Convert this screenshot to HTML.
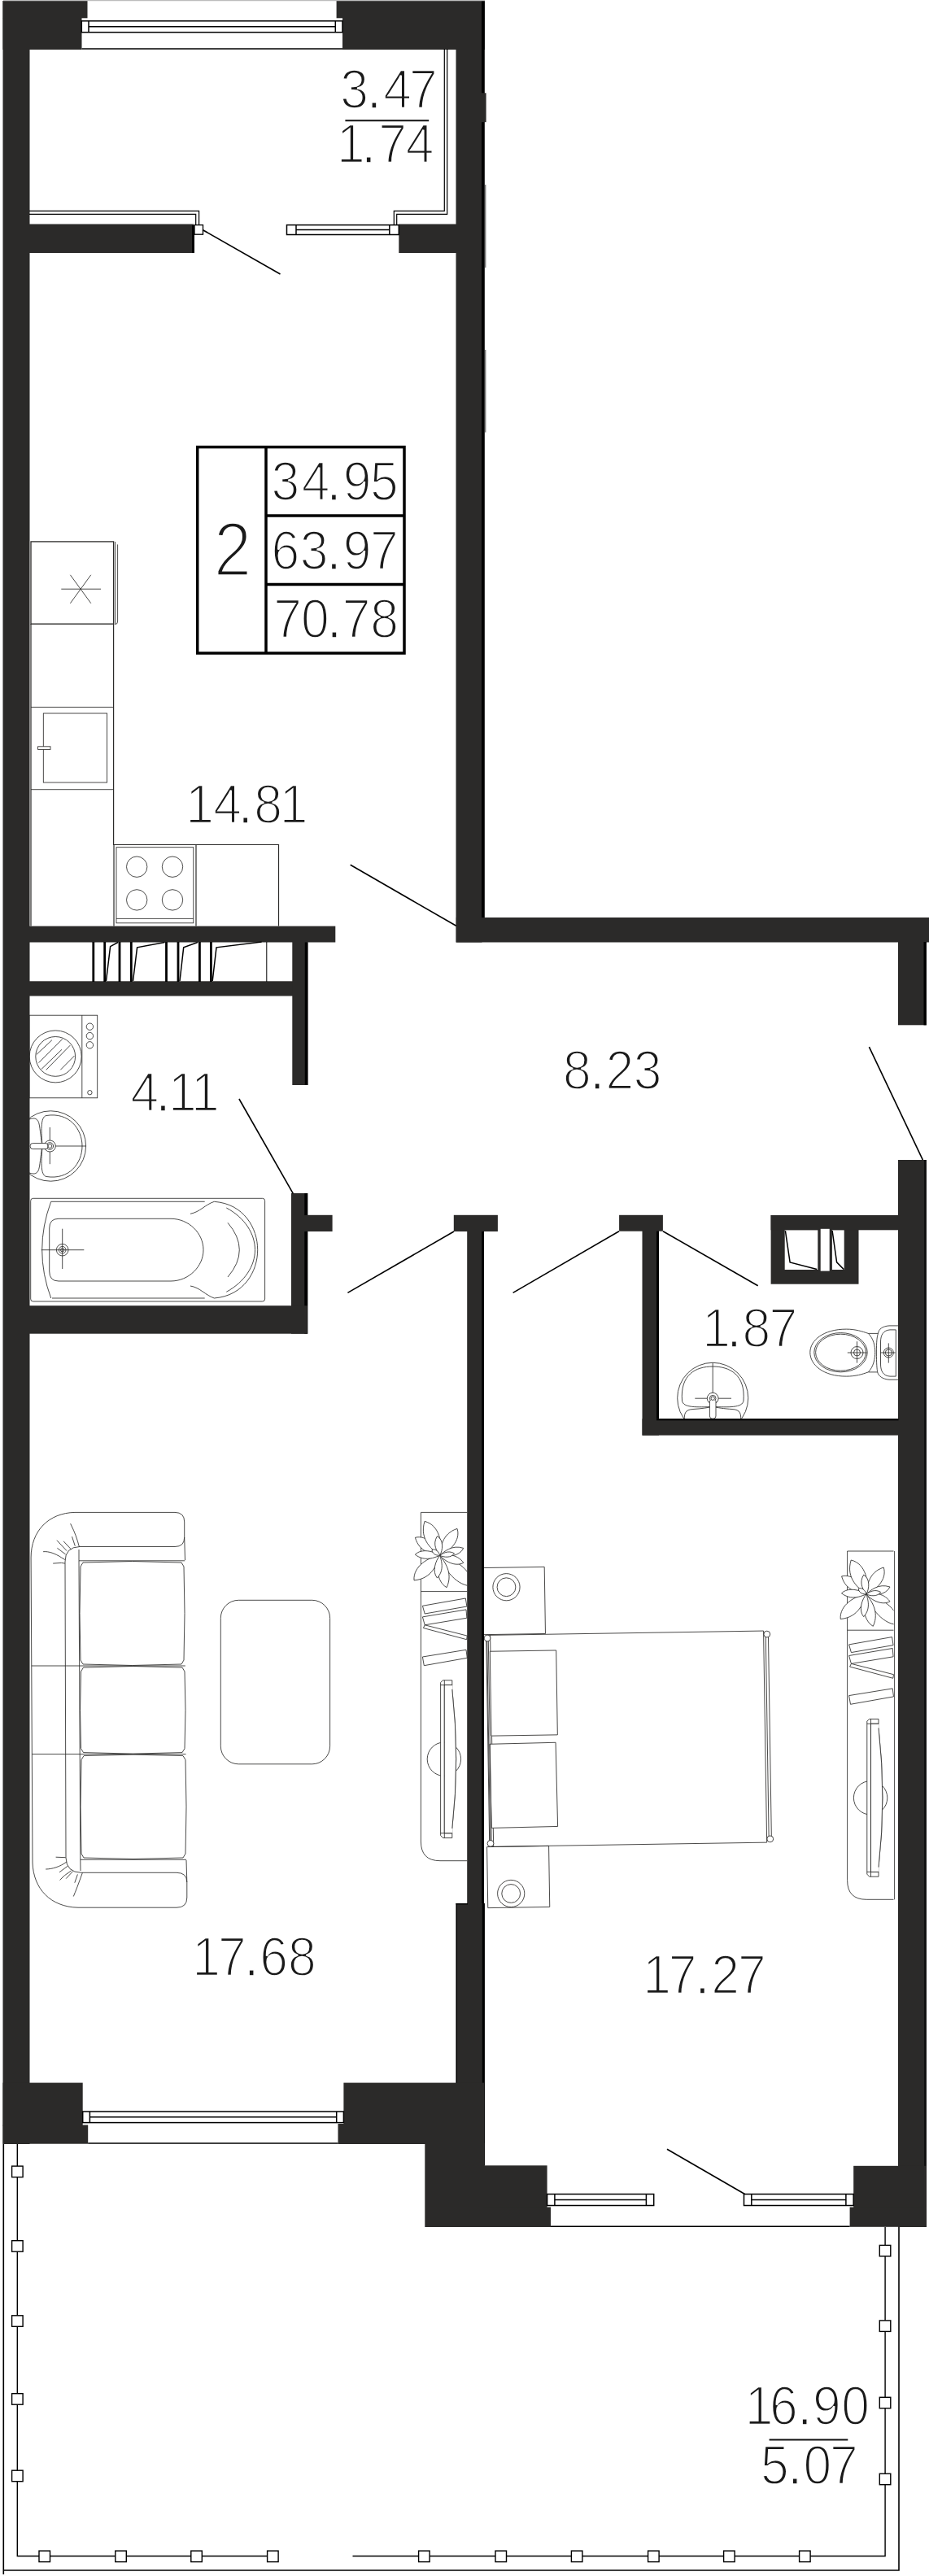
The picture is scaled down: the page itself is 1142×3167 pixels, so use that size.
<!DOCTYPE html>
<html><head><meta charset="utf-8"><title>Plan</title>
<style>
html,body{margin:0;padding:0;background:#fff}
svg{display:block}
text{font-family:"Liberation Sans","DejaVu Sans",sans-serif;fill:#1a1a1a}
</style></head><body>
<svg width="1142" height="3167" viewBox="0 0 1142 3167">
<rect width="1142" height="3167" fill="#fff"/>
<g id="furn">
<rect x="38.0" y="665.9" width="101.6" height="101.2" fill="none" stroke="#2b2a29" stroke-width="1.3" rx="0"/>
<path d="M141.6,666 V767.5 Q144.6,767.5 144.6,764 V669.4" stroke="#2b2a29" stroke-width="0.85" fill="none" />
<line x1="75.3" y1="724.2" x2="124.0" y2="724.2" stroke="#2b2a29" stroke-width="0.85" />
<line x1="86.4" y1="706.8" x2="111.8" y2="741.7" stroke="#2b2a29" stroke-width="0.85" />
<line x1="111.8" y1="706.8" x2="86.4" y2="741.7" stroke="#2b2a29" stroke-width="0.85" />
<path d="M38,767 V1138.5 M139.6,767 V1038.5 H342.5 V1138.5" stroke="#2b2a29" stroke-width="1.2" fill="none" />
<line x1="38.0" y1="869.4" x2="139.0" y2="869.4" stroke="#2b2a29" stroke-width="0.85" />
<line x1="38.0" y1="970.7" x2="139.0" y2="970.7" stroke="#2b2a29" stroke-width="0.85" />
<rect x="53.3" y="877.0" width="78.3" height="85.0" fill="none" stroke="#2b2a29" stroke-width="0.85" rx="0"/>
<rect x="46.6" y="917.8" width="15.4" height="3.6" fill="#fff" stroke="#2b2a29" stroke-width="0.85" rx="0"/>
<line x1="140.0" y1="1038.5" x2="140.0" y2="1138.5" stroke="#2b2a29" stroke-width="1.2" />
<line x1="241.0" y1="1038.5" x2="241.0" y2="1138.5" stroke="#2b2a29" stroke-width="1.2" />
<rect x="143.0" y="1041.7" width="94.8" height="93.1" fill="none" stroke="#2b2a29" stroke-width="0.85" rx="0"/>
<line x1="143.0" y1="1129.4" x2="237.8" y2="1129.4" stroke="#2b2a29" stroke-width="0.85" />
<circle cx="168.2" cy="1065.7" r="12.7" stroke="#2b2a29" stroke-width="0.85" fill="none"/>
<circle cx="168.2" cy="1106.4" r="12.7" stroke="#2b2a29" stroke-width="0.85" fill="none"/>
<circle cx="212.0" cy="1065.7" r="12.7" stroke="#2b2a29" stroke-width="0.85" fill="none"/>
<circle cx="212.0" cy="1106.4" r="12.7" stroke="#2b2a29" stroke-width="0.85" fill="none"/>
<rect x="36.0" y="1248.2" width="83.7" height="101.6" fill="none" stroke="#2b2a29" stroke-width="0.85" rx="0"/>
<line x1="100.8" y1="1248.2" x2="100.8" y2="1349.8" stroke="#2b2a29" stroke-width="0.85" />
<circle cx="68.2" cy="1298.9" r="32.0" stroke="#2b2a29" stroke-width="0.85" fill="none"/>
<circle cx="68.2" cy="1298.9" r="24.4" stroke="#2b2a29" stroke-width="0.85" fill="none"/>
<clipPath id="drum"><circle cx="68.2" cy="1298.9" r="24.4"/></clipPath><g clip-path="url(#drum)">
<line x1="45.0" y1="1296.3" x2="63.9" y2="1278.7" stroke="#2b2a29" stroke-width="0.85" />
<line x1="47.6" y1="1306.6" x2="76.8" y2="1277.4" stroke="#2b2a29" stroke-width="0.85" />
<line x1="51.0" y1="1314.4" x2="76.0" y2="1290.3" stroke="#2b2a29" stroke-width="0.85" />
<line x1="56.7" y1="1315.3" x2="86.3" y2="1285.1" stroke="#2b2a29" stroke-width="0.85" />
<line x1="74.3" y1="1315.3" x2="91.5" y2="1298.0" stroke="#2b2a29" stroke-width="0.85" />
</g>
<circle cx="110.4" cy="1262.2" r="4.2" stroke="#2b2a29" stroke-width="0.85" fill="none"/>
<circle cx="110.4" cy="1273.6" r="4.2" stroke="#2b2a29" stroke-width="0.85" fill="none"/>
<circle cx="110.4" cy="1284.8" r="4.2" stroke="#2b2a29" stroke-width="0.85" fill="none"/>
<circle cx="110.4" cy="1343.2" r="2.7" stroke="#2b2a29" stroke-width="0.85" fill="none"/>
<clipPath id="bclip"><rect x="36" y="1350" width="120" height="120"/></clipPath><g clip-path="url(#bclip)">
<circle cx="62.4" cy="1409.0" r="43.2" stroke="#2b2a29" stroke-width="0.85" fill="none"/>
<path d="M57,1371.5 C85,1367 101,1388 101,1409 C101,1430 85,1451 57,1446.5 C49,1445 51,1425 52,1409 C51,1393 49,1373 57,1371.5 Z" stroke="#2b2a29" stroke-width="0.85" fill="none" />
<path d="M36,1376 C42,1374 47,1374 48.5,1384 C50,1394 51,1404 52,1409 C51,1414 50,1424 48.5,1434 C47,1444 42,1444 36,1442" stroke="#2b2a29" stroke-width="0.85" fill="none" />
</g>
<line x1="61.3" y1="1385.9" x2="61.3" y2="1431.2" stroke="#2b2a29" stroke-width="0.85" />
<line x1="44.0" y1="1409.0" x2="105.6" y2="1409.0" stroke="#2b2a29" stroke-width="0.85" />
<circle cx="61.3" cy="1409.0" r="7.0" stroke="#2b2a29" stroke-width="0.85" fill="#fff"/>
<circle cx="61.3" cy="1409.0" r="4.3" stroke="#2b2a29" stroke-width="0.85" fill="none"/>
<rect x="37.2" y="1405.6" width="21.8" height="7.0" fill="#fff" stroke="#2b2a29" stroke-width="0.85" rx="3"/>
<circle cx="61.3" cy="1409.0" r="2.5" stroke="#2b2a29" stroke-width="0.85" fill="none"/>
<rect x="37.7" y="1473.3" width="287.9" height="126.7" fill="none" stroke="#2b2a29" stroke-width="0.85" rx="3"/>
<path d="M62.7,1477.3 H251.7 M62.7,1477.3 Q40.7,1536.7 62.7,1596 M64,1596 H251.7" stroke="#2b2a29" stroke-width="0.85" fill="none" />
<path d="M234,1492.3 C246,1490 252,1481 263.3,1477.3 C300,1480 316.7,1510 316.7,1536.7 C316.7,1563 300,1593 263.3,1596 C252,1592 246,1583 234,1581" stroke="#2b2a29" stroke-width="0.85" fill="none" />
<path d="M278.3,1485 C301,1497 313.5,1517 313.5,1536.7 C313.5,1556 301,1576 278.3,1588.3" stroke="#2b2a29" stroke-width="0.85" fill="none" />
<path d="M280,1503.3 Q308.6,1536.7 280,1570" stroke="#2b2a29" stroke-width="0.85" fill="none" />
<path d="M72,1498.3 H210 C232,1498.3 250,1516 250,1536.7 C250,1557 232,1575 210,1575 H72 Q60.7,1575 60.7,1563 V1510 Q60.7,1498.3 72,1498.3 Z" stroke="#2b2a29" stroke-width="0.85" fill="none" />
<line x1="76.7" y1="1510.7" x2="76.7" y2="1560.0" stroke="#2b2a29" stroke-width="0.85" />
<line x1="50.7" y1="1536.7" x2="103.3" y2="1536.7" stroke="#2b2a29" stroke-width="0.85" />
<circle cx="76.7" cy="1536.7" r="7.3" stroke="#2b2a29" stroke-width="0.85" fill="none"/>
<circle cx="76.7" cy="1536.7" r="4.3" stroke="#2b2a29" stroke-width="0.85" fill="none"/>
<circle cx="76.7" cy="1536.7" r="2.2" stroke="#2b2a29" stroke-width="0.85" fill="none"/>
<clipPath id="wclip"><rect x="810" y="1660" width="130" height="84.5"/></clipPath><g clip-path="url(#wclip)">
<circle cx="876.2" cy="1718.8" r="43.5" stroke="#2b2a29" stroke-width="0.85" fill="none"/>
<path d="M838.5,1722 C836,1690 855,1680 876.2,1680 C897,1680 916.5,1690 914,1722 C913,1731 895,1730 876.2,1729.5 C857,1730 839.5,1731 838.5,1722 Z" stroke="#2b2a29" stroke-width="0.85" fill="none" />
<path d="M842,1750 C840,1738 842,1733 852,1732.5 C862,1732 870,1730.5 876.2,1729.5 C882,1730.5 890,1732 900,1732.5 C910,1733 912,1738 910,1750" stroke="#2b2a29" stroke-width="0.85" fill="none" />
</g>
<line x1="876.2" y1="1675.3" x2="876.2" y2="1719.0" stroke="#2b2a29" stroke-width="0.85" />
<line x1="854.3" y1="1719.2" x2="899.0" y2="1719.2" stroke="#2b2a29" stroke-width="0.85" />
<circle cx="876.2" cy="1719.2" r="6.9" stroke="#2b2a29" stroke-width="0.85" fill="#fff"/>
<circle cx="876.2" cy="1719.2" r="3.8" stroke="#2b2a29" stroke-width="0.85" fill="none"/>
<path d="M872.4,1722 V1741 Q872.4,1744.3 876.2,1744.3 Q880,1744.3 880,1741 V1722" stroke="#2b2a29" stroke-width="0.85" fill="#fff" />
<circle cx="876.2" cy="1719.2" r="2.2" stroke="#2b2a29" stroke-width="0.85" fill="none"/>
<path d="M1067.4,1639.4 C1060,1637 1052,1634.1 1040.3,1634.1 C1012,1634.1 995.8,1648 995.8,1662.7 C995.8,1678 1012,1692.1 1040.3,1692.1 C1052,1692.1 1060,1689.5 1067.4,1686.9 C1074,1680 1075.7,1670 1075.7,1662.7 C1075.7,1655 1074,1646 1067.4,1639.4 Z" stroke="#2b2a29" stroke-width="0.85" fill="none" />
<path d="M1067.4,1639.4 H1079.5 M1067.4,1686.9 H1078.7" stroke="#2b2a29" stroke-width="0.85" fill="none" />
<ellipse cx="1033.5" cy="1662.7" rx="32.7" ry="24.1" fill="none" stroke="#2b2a29" stroke-width="0.85"/>
<ellipse cx="1033.5" cy="1662.7" rx="30.9" ry="22.5" fill="none" stroke="#2b2a29" stroke-width="0.85"/>
<path d="M1106,1629.9 H1093 C1085,1630.5 1080,1634 1079.5,1639.4 C1078,1643 1077.4,1650 1077.4,1663 C1077.4,1676 1078,1683 1078.7,1686.9 C1080,1692 1085,1695.5 1093,1696.2 H1106" stroke="#2b2a29" stroke-width="0.85" fill="none" />
<path d="M1101.3,1634.9 H1094 C1086,1635.5 1082.5,1641 1082.5,1650 V1677 C1082.5,1686 1086,1691.5 1094,1692.1 H1101.3 Z" stroke="#2b2a29" stroke-width="0.85" fill="none" />
<circle cx="1053.5" cy="1663.0" r="7.5" stroke="#2b2a29" stroke-width="0.85" fill="none"/>
<circle cx="1053.5" cy="1663.0" r="4.0" stroke="#2b2a29" stroke-width="0.85" fill="none"/>
<line x1="1041.8" y1="1663.0" x2="1065.9" y2="1663.0" stroke="#2b2a29" stroke-width="0.85" />
<line x1="1053.5" y1="1649.2" x2="1053.5" y2="1675.6" stroke="#2b2a29" stroke-width="0.85" />
<circle cx="1092.3" cy="1663.0" r="6.0" stroke="#2b2a29" stroke-width="0.85" fill="none"/>
<circle cx="1092.3" cy="1663.0" r="4.0" stroke="#2b2a29" stroke-width="0.85" fill="none"/>
<line x1="1082.5" y1="1663.0" x2="1100.6" y2="1663.0" stroke="#2b2a29" stroke-width="0.85" />
<line x1="1092.3" y1="1651.4" x2="1092.3" y2="1675.6" stroke="#2b2a29" stroke-width="0.85" />
<path d="M226.7,1871 Q226.7,1859.4 215,1859.4 H92 C60,1860 38.1,1882 38.1,1915 L40,2290 C41,2322 62,2344.5 96,2345.2 H217 Q229.8,2345.2 229.8,2333 V2314 Q229.8,2302.3 217,2302.3 H100 Q81.5,2302 81,2284 L80,1920 Q80,1902 98,1901.5 H215 Q226.7,1901.5 226.7,1890 Z" stroke="#2b2a29" stroke-width="0.85" fill="none" />
<path d="M226.7,1890 L227.5,1918 M229.8,2314 L229,2287" stroke="#2b2a29" stroke-width="0.85" fill="none" />
<path d="M97,1905 L97,1918.8 L98.8,2286.3 L99,2300" stroke="#2b2a29" stroke-width="0.85" fill="none" />
<path d="M97,1918.8 H227.3 M98.8,2286.3 H229" stroke="#2b2a29" stroke-width="0.85" fill="none" />
<line x1="38.8" y1="2048.0" x2="227.8" y2="2048.0" stroke="#2b2a29" stroke-width="0.85" />
<line x1="39.3" y1="2156.6" x2="228.5" y2="2156.6" stroke="#2b2a29" stroke-width="0.85" />
<path d="M102,1921 Q162.5,1918 223,1921 L226,1926 Q228,1983.5 226,2041 L223,2046 Q162.5,2049 102,2046 L99,2041 Q97,1983.5 99,1926 Z" stroke="#2b2a29" stroke-width="0.85" fill="none" />
<path d="M102.5,2050 Q163.25,2047 224,2050 L227,2055 Q229,2102.3 227,2149.6 L224,2154.6 Q163.25,2157.6 102.5,2154.6 L99.5,2149.6 Q97.5,2102.3 99.5,2055 Z" stroke="#2b2a29" stroke-width="0.85" fill="none" />
<path d="M103,2158.6 Q164.0,2155.6 225,2158.6 L228,2163.6 Q230,2221.3 228,2279 L225,2284 Q164.0,2287 103,2284 L100,2279 Q98,2221.3 100,2163.6 Z" stroke="#2b2a29" stroke-width="0.85" fill="none" />
<path d="M86.6,1873.1 Q91,1882 93.1,1887.8 T97.5,1902" stroke="#2b2a29" stroke-width="0.85" fill="none" />
<path d="M88.5,1889.1 L92.3,1900.7" stroke="#2b2a29" stroke-width="0.85" fill="none" />
<path d="M69.9,1893.7 L82,1906.6" stroke="#2b2a29" stroke-width="0.85" fill="none" />
<path d="M78.1,1894.8 L87.7,1905.1" stroke="#2b2a29" stroke-width="0.85" fill="none" />
<path d="M53.1,1907.7 C60,1907 68,1910 75.5,1914.9 L79.9,1917.5" stroke="#2b2a29" stroke-width="0.85" fill="none" />
<path d="M70.4,1903.3 L80.7,1911" stroke="#2b2a29" stroke-width="0.85" fill="none" />
<path d="M65.2,1922.1 L75.5,1921.4 L79.9,1922.1" stroke="#2b2a29" stroke-width="0.85" fill="none" />
<path d="M68.6,2283.2 L80.7,2283.7" stroke="#2b2a29" stroke-width="0.85" fill="none" />
<path d="M56.2,2298 C64,2298 74,2295 82,2288.9" stroke="#2b2a29" stroke-width="0.85" fill="none" />
<path d="M73,2301.8 L83.3,2294.1" stroke="#2b2a29" stroke-width="0.85" fill="none" />
<path d="M73.5,2311.4 Q78,2306 87.7,2299.8" stroke="#2b2a29" stroke-width="0.85" fill="none" />
<path d="M81.2,2309.6 L89.7,2300.5" stroke="#2b2a29" stroke-width="0.85" fill="none" />
<path d="M90.3,2331.5 Q94,2323 101.4,2302.3" stroke="#2b2a29" stroke-width="0.85" fill="none" />
<path d="M91.8,2314.7 L95.4,2304.4" stroke="#2b2a29" stroke-width="0.85" fill="none" />
<rect x="271.3" y="1967.3" width="134.3" height="201.5" fill="none" stroke="#2b2a29" stroke-width="0.85" rx="22"/>
</g>
<defs><g id="tvunit">
<clipPath id="uclip"><rect x="500" y="1850" width="74.4" height="450"/></clipPath>
<path d="M574.3,1859.4 H517.4 V2264 Q517.4,2287.7 541,2287.7 H574.3" stroke="#2b2a29" stroke-width="0.85" fill="#fff" />
<line x1="517.4" y1="1956.6" x2="574.3" y2="1956.6" stroke="#2b2a29" stroke-width="0.85" />
<g clip-path="url(#uclip)">
<path d="M540.7,1912.3 C532.4,1910.9 515.4,1908.8 510.4,1890.3 C524.6,1886.7 537.1,1901.3 540.7,1912.3 Z" stroke="#2b2a29" stroke-width="0.85" fill="#fff" />
<path d="M540.7,1912.3 C537.5,1921.7 531.7,1941.0 509.0,1942.9 C507.6,1925.5 527.2,1914.1 540.7,1912.3 Z" stroke="#2b2a29" stroke-width="0.85" fill="#fff" />
<path d="M540.7,1912.3 C552.4,1916.1 576.4,1922.9 582.3,1949.8 C561.9,1951.6 545.1,1928.4 540.7,1912.3 Z" stroke="#2b2a29" stroke-width="0.85" fill="#fff" />
<path d="M540.7,1912.3 C532.4,1905.9 514.9,1893.6 522.0,1870.4 C540.4,1874.8 544.3,1898.2 540.7,1912.3 Z" stroke="#2b2a29" stroke-width="0.85" fill="#fff" />
<path d="M540.7,1912.3 C541.6,1903.5 542.8,1885.6 562.0,1879.4 C566.8,1894.2 552.1,1908.0 540.7,1912.3 Z" stroke="#2b2a29" stroke-width="0.85" fill="#fff" />
<path d="M540.7,1912.3 C546.0,1919.4 557.5,1933.5 549.1,1951.7 C536.0,1944.2 536.2,1923.6 540.7,1912.3 Z" stroke="#2b2a29" stroke-width="0.85" fill="#fff" />
<path d="M540.7,1912.3 C545.7,1907.9 555.6,1898.6 569.8,1903.4 C564.9,1913.5 549.4,1914.8 540.7,1912.3 Z" stroke="#2b2a29" stroke-width="0.85" fill="#fff" />
<path d="M540.7,1912.3 C547.3,1911.4 560.7,1909.2 569.8,1921.2 C560.1,1926.9 546.5,1919.3 540.7,1912.3 Z" stroke="#2b2a29" stroke-width="0.85" fill="#fff" />
<path d="M540.7,1912.3 C534.5,1914.8 522.2,1920.5 510.3,1911.2 C518.2,1903.3 533.3,1907.1 540.7,1912.3 Z" stroke="#2b2a29" stroke-width="0.85" fill="#fff" />
<path d="M540.7,1912.3 C537.6,1907.9 530.9,1899.1 537.5,1888.5 C545.8,1893.5 544.4,1905.8 540.7,1912.3 Z" stroke="#2b2a29" stroke-width="0.85" fill="#fff" />
<path d="M540.7,1912.3 C542.5,1918.2 546.7,1929.9 537.5,1940.1 C530.8,1932.3 535.4,1918.7 540.7,1912.3 Z" stroke="#2b2a29" stroke-width="0.85" fill="#fff" />
<path d="M540.7,1912.3 C544.0,1910.1 550.6,1905.3 558.5,1909.8 C554.8,1915.6 545.6,1914.8 540.7,1912.3 Z" stroke="#2b2a29" stroke-width="0.85" fill="#fff" />
<path d="M540.7,1912.3 C537.9,1912.2 532.0,1912.1 530.9,1905.4 C535.9,1903.5 539.8,1908.4 540.7,1912.3 Z" stroke="#2b2a29" stroke-width="0.85" fill="#fff" />
</g>
<polygon points="519.4,1974.3 572.3,1965 573.9,1975 522.2,1984" fill="none" stroke="#2b2a29" stroke-width="0.85"/>
<polygon points="519.4,1987.9 573,1978.9 573.9,1989.2 522.2,1997.8" fill="none" stroke="#2b2a29" stroke-width="0.85"/>
<polygon points="522.2,1997.8 574.3,2011.1 573.6,2015.7 520.4,2001.5" fill="none" stroke="#2b2a29" stroke-width="0.85"/>
<polygon points="519.4,2037 573,2028.3 574.3,2038.3 521.3,2047.7" fill="none" stroke="#2b2a29" stroke-width="0.85"/>
<circle cx="545.9" cy="2162.7" r="20.7" stroke="#2b2a29" stroke-width="0.85" fill="none"/>
<path d="M555.8,2071.6 V2076.8 Q565.5,2162.7 555.8,2248 V2253.8" stroke="#2b2a29" stroke-width="0.85" fill="#fff" />
<path d="M544.5,2065.8 H555.8 V2071.6 H546.3 V2253.8 H555.8 V2259.6 H544.5 L541.6,2256.5 V2068.5 Z" stroke="#2b2a29" stroke-width="0.85" fill="#fff" />
<path d="M546.3,2065.8 V2259.6 M541.6,2071.6 H555.8 M541.6,2253.8 H555.8" stroke="#2b2a29" stroke-width="0.85" fill="none" />
<rect x="546.8" y="2072.2" width="9.6" height="181.0" fill="#fff" />
<path d="M555.8,2076.8 Q565.5,2162.7 555.8,2248" stroke="#2b2a29" stroke-width="0.85" fill="#fff" />
</g></defs>
<use href="#tvunit"/>
<use href="#tvunit" transform="translate(524.2,47.6)"/>
<line x1="1099.6" y1="1907.0" x2="1099.6" y2="2335.3" stroke="#2b2a29" stroke-width="0.85" />
<g id="bed" transform="rotate(-0.9 598.6 2010.4)">
<rect x="594.5" y="1927.5" width="76.0" height="82.1" fill="none" stroke="#2b2a29" stroke-width="0.85" rx="0"/>
<circle cx="623.4" cy="1951.6" r="16.6" stroke="#2b2a29" stroke-width="0.85" fill="none"/>
<circle cx="623.4" cy="1951.6" r="11.4" stroke="#2b2a29" stroke-width="0.85" fill="none"/>
<rect x="594.5" y="2270.6" width="76.0" height="75.0" fill="none" stroke="#2b2a29" stroke-width="0.85" rx="0"/>
<circle cx="623.2" cy="2328.4" r="16.6" stroke="#2b2a29" stroke-width="0.85" fill="none"/>
<circle cx="623.2" cy="2328.4" r="11.4" stroke="#2b2a29" stroke-width="0.85" fill="none"/>
<rect x="598.6" y="2010.4" width="340.0" height="260.1" fill="none" stroke="#2b2a29" stroke-width="0.85" rx="0"/>
<path d="M602.6,2010.4 V2270.5" stroke="#2b2a29" stroke-width="0.85" fill="none" />
<rect x="602.0" y="2030.3" width="81.4" height="103.9" fill="#fff" stroke="#2b2a29" stroke-width="0.85" rx="0"/>
<g transform="rotate(-0.5 599.7 2144.3)">
<rect x="599.7" y="2144.3" width="81.3" height="103.2" fill="#fff" stroke="#2b2a29" stroke-width="0.85" rx="0"/>
</g>
<path d="M597.7,2014 V2266.5 M600.2,2014 V2266.5" stroke="#2b2a29" stroke-width="0.85" fill="none" />
<path d="M941.2,2014 V2266.5 M944.4,2014 V2266.5" stroke="#2b2a29" stroke-width="0.85" fill="none" />
<circle cx="599.0" cy="2014.0" r="3.9" stroke="#2b2a29" stroke-width="0.85" fill="#fff"/>
<circle cx="599.0" cy="2266.4" r="3.9" stroke="#2b2a29" stroke-width="0.85" fill="#fff"/>
<circle cx="942.8" cy="2014.5" r="3.9" stroke="#2b2a29" stroke-width="0.85" fill="#fff"/>
<circle cx="942.8" cy="2266.3" r="3.9" stroke="#2b2a29" stroke-width="0.85" fill="#fff"/>
</g>
<g id="walls">
<rect x="3.5" y="1.0" width="33.0" height="2635.0" fill="#2b2a29" />
<rect x="3.5" y="1.0" width="104.0" height="21.3" fill="#2b2a29" />
<rect x="3.5" y="22.0" width="97.0" height="39.0" fill="#2b2a29" />
<rect x="413.6" y="1.0" width="182.2" height="21.3" fill="#2b2a29" />
<rect x="421.0" y="22.0" width="174.8" height="39.0" fill="#2b2a29" />
<rect x="560.5" y="1.0" width="32.0" height="1157.5" fill="#2b2a29" />
<rect x="592.0" y="1.0" width="3.8" height="1127.5" fill="#000" />
<rect x="592.0" y="114.3" width="5.6" height="35.9" fill="#2b2a29" />
<line x1="596.8" y1="227.0" x2="596.8" y2="329.0" stroke="#444" stroke-width="1" />
<line x1="596.8" y1="430.0" x2="596.8" y2="531.6" stroke="#444" stroke-width="1" />
<rect x="36.0" y="275.5" width="202.0" height="35.5" fill="#2b2a29" />
<rect x="236.0" y="277.0" width="3.0" height="34.0" fill="#000" />
<rect x="490.3" y="275.5" width="70.7" height="35.5" fill="#2b2a29" />
<rect x="35.0" y="1138.6" width="377.3" height="19.9" fill="#2b2a29" />
<rect x="35.0" y="1206.3" width="326.0" height="18.2" fill="#2b2a29" />
<rect x="359.3" y="1157.0" width="19.1" height="177.0" fill="#2b2a29" />
<rect x="374.8" y="1158.5" width="3.6" height="175.5" fill="#000" />
<rect x="560.8" y="1128.0" width="581.2" height="30.5" fill="#2b2a29" />
<rect x="1104.0" y="1158.0" width="34.8" height="102.3" fill="#2b2a29" />
<rect x="1135.5" y="1158.0" width="3.3" height="102.3" fill="#000" />
<rect x="1104.0" y="1426.0" width="34.8" height="1312.0" fill="#2b2a29" />
<rect x="1136.0" y="1426.0" width="2.8" height="1312.0" fill="#111" />
<rect x="358.0" y="1467.0" width="20.2" height="172.7" fill="#2b2a29" />
<rect x="377.0" y="1493.8" width="31.6" height="20.2" fill="#2b2a29" />
<rect x="374.3" y="1467.0" width="3.9" height="27.0" fill="#000" />
<rect x="374.3" y="1514.0" width="3.9" height="125.7" fill="#000" />
<rect x="35.0" y="1605.2" width="342.8" height="34.5" fill="#2b2a29" />
<rect x="557.8" y="1493.8" width="54.1" height="20.2" fill="#2b2a29" />
<rect x="574.2" y="1513.0" width="20.8" height="1152.0" fill="#2b2a29" />
<rect x="592.2" y="1514.0" width="2.8" height="1148.0" fill="#000" />
<rect x="560.8" y="2340.0" width="35.0" height="398.0" fill="#2b2a29" />
<rect x="592.8" y="2340.0" width="3.0" height="322.0" fill="#000" />
<rect x="560.5" y="2340.0" width="1.5" height="221.0" fill="#000" />
<rect x="560.5" y="2340.0" width="14.5" height="1.5" fill="#000" />
<rect x="761.1" y="1493.8" width="53.8" height="19.9" fill="#2b2a29" />
<rect x="789.5" y="1513.0" width="20.5" height="251.6" fill="#2b2a29" />
<rect x="807.0" y="1513.7" width="3.0" height="230.8" fill="#000" />
<rect x="789.5" y="1744.3" width="315.5" height="20.3" fill="#2b2a29" />
<rect x="807.0" y="1744.3" width="297.5" height="2.0" fill="#000" />
<rect x="947.6" y="1494.0" width="107.9" height="84.7" fill="#2b2a29" />
<rect x="947.6" y="1494.0" width="157.4" height="18.3" fill="#2b2a29" />
<rect x="964.7" y="1512.4" width="40.6" height="48.6" fill="#fff" />
<rect x="1008.7" y="1510.8" width="11.0" height="51.8" fill="#fff" />
<rect x="1022.9" y="1512.4" width="14.8" height="48.6" fill="#fff" />
<path d="M965.4,1513.1 L971.1,1551.9 L1004.2,1560.6" stroke="#000" stroke-width="1.5" fill="none" />
<path d="M1023.1,1513.1 L1028.6,1551.9 L1037.3,1560.6" stroke="#000" stroke-width="1.5" fill="none" />
<rect x="3.5" y="2560.6" width="98.2" height="53.0" fill="#2b2a29" />
<rect x="3.5" y="2612.5" width="104.7" height="23.2" fill="#2b2a29" />
<rect x="422.4" y="2560.6" width="172.6" height="51.7" fill="#2b2a29" />
<rect x="415.5" y="2611.0" width="179.5" height="25.0" fill="#2b2a29" />
<rect x="522.3" y="2635.0" width="73.0" height="103.0" fill="#2b2a29" />
<rect x="594.0" y="2662.3" width="78.6" height="52.3" fill="#2b2a29" />
<rect x="594.0" y="2713.5" width="83.0" height="24.5" fill="#2b2a29" />
<rect x="1049.2" y="2662.8" width="89.6" height="52.0" fill="#2b2a29" />
<rect x="1044.6" y="2713.5" width="94.2" height="24.3" fill="#2b2a29" />
</g>
<g id="kvent">
<rect x="113.4" y="1158.0" width="2.8" height="49.0" fill="#000" />
<rect x="127.3" y="1158.0" width="2.8" height="49.0" fill="#000" />
<rect x="145.6" y="1158.0" width="2.8" height="49.0" fill="#000" />
<rect x="159.9" y="1158.0" width="2.8" height="49.0" fill="#000" />
<rect x="203.1" y="1158.0" width="2.8" height="49.0" fill="#000" />
<rect x="217.6" y="1158.0" width="2.8" height="49.0" fill="#000" />
<rect x="244.0" y="1158.0" width="2.8" height="49.0" fill="#000" />
<rect x="258.0" y="1158.0" width="2.8" height="49.0" fill="#000" />
<line x1="327.8" y1="1158.0" x2="327.8" y2="1207.0" stroke="#000" stroke-width="1" />
<path d="M130.5,1206 L135.6,1163.7 L145,1158.5" stroke="#000" stroke-width="1.5" fill="none" />
<path d="M163.5,1206 L168.6,1164.8 L202.6,1158.5" stroke="#000" stroke-width="1.5" fill="none" />
<path d="M221,1206 L225.7,1164.8 L243,1158.5" stroke="#000" stroke-width="1.5" fill="none" />
<path d="M261.2,1206 L266,1164.8 L321.6,1158" stroke="#000" stroke-width="1.5" fill="none" />
</g>
<g id="windows">
<line x1="4.0" y1="0.6" x2="596.0" y2="0.6" stroke="#bdbdbd" stroke-width="1.2" />
<rect x="100.3" y="25.8" width="320.7" height="13.9" fill="#fff" stroke="#000" stroke-width="1.5" rx="0"/>
<line x1="109.0" y1="32.8" x2="412.3" y2="32.8" stroke="#000" stroke-width="1.5" />
<line x1="109.0" y1="25.8" x2="109.0" y2="39.7" stroke="#000" stroke-width="1.5" />
<line x1="412.3" y1="25.8" x2="412.3" y2="39.7" stroke="#000" stroke-width="1.5" />
<line x1="100.5" y1="60.0" x2="421.0" y2="60.0" stroke="#000" stroke-width="1.6" />
<path d="M36,259.4 H244.6 V276" stroke="#000" stroke-width="1.2" fill="none" />
<path d="M36,263.3 H240.7 V276" stroke="#000" stroke-width="1.2" fill="none" />
<rect x="239.0" y="276.6" width="10.5" height="11.6" fill="#fff" stroke="#000" stroke-width="1.3" rx="0"/>
<rect x="352.5" y="276.6" width="137.8" height="11.9" fill="#fff" stroke="#000" stroke-width="1.5" rx="0"/>
<line x1="364.0" y1="282.6" x2="478.8" y2="282.6" stroke="#000" stroke-width="1.5" />
<line x1="364.0" y1="276.6" x2="364.0" y2="288.5" stroke="#000" stroke-width="1.5" />
<line x1="478.8" y1="276.6" x2="478.8" y2="288.5" stroke="#000" stroke-width="1.5" />
<path d="M546.3,60 V259.4 H484.3 V276" stroke="#000" stroke-width="1.2" fill="none" />
<path d="M549.7,60 V263.3 H487.7 V276" stroke="#000" stroke-width="1.2" fill="none" />
<rect x="101.7" y="2596.0" width="320.7" height="13.6" fill="#fff" stroke="#000" stroke-width="1.5" rx="0"/>
<line x1="110.4" y1="2602.8" x2="413.7" y2="2602.8" stroke="#000" stroke-width="1.5" />
<line x1="110.4" y1="2596.0" x2="110.4" y2="2609.6" stroke="#000" stroke-width="1.5" />
<line x1="413.7" y1="2596.0" x2="413.7" y2="2609.6" stroke="#000" stroke-width="1.5" />
<line x1="108.2" y1="2635.0" x2="415.5" y2="2635.0" stroke="#000" stroke-width="1.5" />
<rect x="672.6" y="2697.5" width="131.1" height="14.0" fill="#fff" stroke="#000" stroke-width="1.5" rx="0"/>
<line x1="681.9" y1="2704.5" x2="794.4" y2="2704.5" stroke="#000" stroke-width="1.5" />
<line x1="681.9" y1="2697.5" x2="681.9" y2="2711.5" stroke="#000" stroke-width="1.5" />
<line x1="794.4" y1="2697.5" x2="794.4" y2="2711.5" stroke="#000" stroke-width="1.5" />
<rect x="914.5" y="2697.5" width="134.7" height="14.0" fill="#fff" stroke="#000" stroke-width="1.5" rx="0"/>
<line x1="923.8" y1="2704.5" x2="1039.9" y2="2704.5" stroke="#000" stroke-width="1.5" />
<line x1="923.8" y1="2697.5" x2="923.8" y2="2711.5" stroke="#000" stroke-width="1.5" />
<line x1="1039.9" y1="2697.5" x2="1039.9" y2="2711.5" stroke="#000" stroke-width="1.5" />
<line x1="677.0" y1="2737.3" x2="1044.6" y2="2737.3" stroke="#000" stroke-width="1.5" />
</g>
<g id="doors">
<line x1="249.0" y1="282.5" x2="344.5" y2="337.0" stroke="#000" stroke-width="1.6" />
<line x1="430.7" y1="1063.3" x2="560.8" y2="1138.2" stroke="#000" stroke-width="1.6" />
<line x1="1068.4" y1="1287.2" x2="1134.4" y2="1426.2" stroke="#000" stroke-width="1.6" />
<line x1="293.9" y1="1351.0" x2="360.3" y2="1467.3" stroke="#000" stroke-width="1.6" />
<line x1="427.4" y1="1589.4" x2="558.0" y2="1514.0" stroke="#000" stroke-width="1.6" />
<line x1="630.6" y1="1589.4" x2="761.0" y2="1513.7" stroke="#000" stroke-width="1.6" />
<line x1="815.0" y1="1513.7" x2="931.7" y2="1580.8" stroke="#000" stroke-width="1.6" />
<line x1="820.0" y1="2642.2" x2="915.6" y2="2697.5" stroke="#000" stroke-width="1.6" />
</g>
<g id="terrace">
<path d="M4.3,2636 V3165 M3.5,3160 H1105 V2738" stroke="#000" stroke-width="1.6" fill="none" />
<path d="M21.3,2636 V3142.5 H342" stroke="#000" stroke-width="1.4" fill="none" />
<path d="M433.5,3142.5 H1088.1 V2738" stroke="#000" stroke-width="1.4" fill="none" />
<rect x="14.6" y="2663.1" width="13.5" height="13.5" fill="#fff" stroke="#000" stroke-width="1.4" rx="0"/>
<rect x="14.6" y="2754.7" width="13.5" height="13.5" fill="#fff" stroke="#000" stroke-width="1.4" rx="0"/>
<rect x="14.6" y="2846.8" width="13.5" height="13.5" fill="#fff" stroke="#000" stroke-width="1.4" rx="0"/>
<rect x="14.6" y="2942.7" width="13.5" height="13.5" fill="#fff" stroke="#000" stroke-width="1.4" rx="0"/>
<rect x="14.6" y="3037.2" width="13.5" height="13.5" fill="#fff" stroke="#000" stroke-width="1.4" rx="0"/>
<rect x="1081.3" y="2760.4" width="13.5" height="13.5" fill="#fff" stroke="#000" stroke-width="1.4" rx="0"/>
<rect x="1081.3" y="2852.9" width="13.5" height="13.5" fill="#fff" stroke="#000" stroke-width="1.4" rx="0"/>
<rect x="1081.3" y="2947.3" width="13.5" height="13.5" fill="#fff" stroke="#000" stroke-width="1.4" rx="0"/>
<rect x="1081.3" y="3041.2" width="13.5" height="13.5" fill="#fff" stroke="#000" stroke-width="1.4" rx="0"/>
<rect x="48.0" y="3136.1" width="13.5" height="13.5" fill="#fff" stroke="#000" stroke-width="1.4" rx="0"/>
<rect x="141.8" y="3136.1" width="13.5" height="13.5" fill="#fff" stroke="#000" stroke-width="1.4" rx="0"/>
<rect x="234.8" y="3136.1" width="13.5" height="13.5" fill="#fff" stroke="#000" stroke-width="1.4" rx="0"/>
<rect x="328.6" y="3136.1" width="13.5" height="13.5" fill="#fff" stroke="#000" stroke-width="1.4" rx="0"/>
<rect x="514.6" y="3136.1" width="13.5" height="13.5" fill="#fff" stroke="#000" stroke-width="1.4" rx="0"/>
<rect x="609.0" y="3136.1" width="13.5" height="13.5" fill="#fff" stroke="#000" stroke-width="1.4" rx="0"/>
<rect x="702.4" y="3136.1" width="13.5" height="13.5" fill="#fff" stroke="#000" stroke-width="1.4" rx="0"/>
<rect x="796.6" y="3136.1" width="13.5" height="13.5" fill="#fff" stroke="#000" stroke-width="1.4" rx="0"/>
<rect x="889.6" y="3136.1" width="13.5" height="13.5" fill="#fff" stroke="#000" stroke-width="1.4" rx="0"/>
<rect x="982.6" y="3136.1" width="13.5" height="13.5" fill="#fff" stroke="#000" stroke-width="1.4" rx="0"/>
</g>
<g id="box">
<rect x="242.7" y="549.6" width="254.3" height="253.4" fill="none" stroke="#000" stroke-width="3.5" rx="0"/>
<line x1="327.0" y1="549.6" x2="327.0" y2="803.0" stroke="#000" stroke-width="3.5" />
<line x1="327.0" y1="634.0" x2="497.0" y2="634.0" stroke="#000" stroke-width="3.5" />
<line x1="327.0" y1="718.4" x2="497.0" y2="718.4" stroke="#000" stroke-width="3.5" />
</g>
<g id="labels">
<text transform="matrix(1.0400 0 0 1.1333 0 133.33)" x="402.23 433.95 453.18 483.69" y="0" font-size="60" stroke="#fff" stroke-width="2.1">3<tspan stroke-width="1.3">.</tspan>47</text>
<text transform="matrix(1.0400 0 0 1.1410 0 200.34)" x="397.98 427.32 447.35 479.58" y="0" font-size="60" stroke="#fff" stroke-width="2.1">1<tspan stroke-width="1.3">.</tspan>74</text>
<text transform="matrix(1.0400 0 0 1.1333 0 614.83)" x="320.69 356.55 386.26 405.52 437.57" y="0" font-size="60" stroke="#fff" stroke-width="2.1">34<tspan stroke-width="1.3">.</tspan>95</text>
<text transform="matrix(1.0400 0 0 1.1333 0 699.73)" x="320.69 354.59 386.26 405.52 437.44" y="0" font-size="60" stroke="#fff" stroke-width="2.1">63<tspan stroke-width="1.3">.</tspan>97</text>
<text transform="matrix(1.0400 0 0 1.1333 0 783.93)" x="323.21 355.76 386.69 404.61 437.71" y="0" font-size="60" stroke="#fff" stroke-width="2.1">70<tspan stroke-width="1.3">.</tspan>78</text>
<text transform="matrix(1.3920 0 0 1.5692 0 708.27)" x="188.67" y="0" font-size="60" stroke="#fff" stroke-width="2.1">2</text>
<text transform="matrix(1.0400 0 0 1.1410 0 1011.84)" x="219.42 252.17 281.84 300.16 330.58" y="0" font-size="60" stroke="#fff" stroke-width="2.1">14<tspan stroke-width="1.3">.</tspan>81</text>
<text transform="matrix(1.0400 0 0 1.1385 0 1365.54)" x="154.38 184.38 199.04 225.87" y="0" font-size="60" stroke="#fff" stroke-width="2.1">4<tspan stroke-width="1.3">.</tspan>11</text>
<text transform="matrix(1.0400 0 0 1.1385 0 1338.54)" x="665.31 697.56 715.76 748.72" y="0" font-size="60" stroke="#fff" stroke-width="2.1">8<tspan stroke-width="1.3">.</tspan>23</text>
<text transform="matrix(1.0400 0 0 1.1385 0 1655.54)" x="830.10 859.29 877.42 909.12" y="0" font-size="60" stroke="#fff" stroke-width="2.1">1<tspan stroke-width="1.3">.</tspan>87</text>
<text transform="matrix(1.0400 0 0 1.1410 0 2429.34)" x="227.07 257.73 288.90 306.94 340.40" y="0" font-size="60" stroke="#fff" stroke-width="2.1">17<tspan stroke-width="1.3">.</tspan>68</text>
<text transform="matrix(1.0400 0 0 1.1385 0 2451.04)" x="759.90 790.18 821.84 840.62 872.20" y="0" font-size="60" stroke="#fff" stroke-width="2.1">17<tspan stroke-width="1.3">.</tspan>27</text>
<text transform="matrix(1.0400 0 0 1.1513 0 2981.05)" x="880.58 909.63 942.75 960.52 994.41" y="0" font-size="60" stroke="#fff" stroke-width="2.1">16<tspan stroke-width="1.3">.</tspan>90</text>
<text transform="matrix(1.0400 0 0 1.1385 0 3054.24)" x="899.06 931.31 949.51 980.71" y="0" font-size="60" stroke="#fff" stroke-width="2.1">5<tspan stroke-width="1.3">.</tspan>07</text>
</g>
<g id="fraclines">
<line x1="424.4" y1="148.3" x2="527.2" y2="148.3" stroke="#111" stroke-width="2" />
<line x1="945.6" y1="2999.5" x2="1042.3" y2="2999.5" stroke="#111" stroke-width="2" />
</g>
</svg>
</body></html>
